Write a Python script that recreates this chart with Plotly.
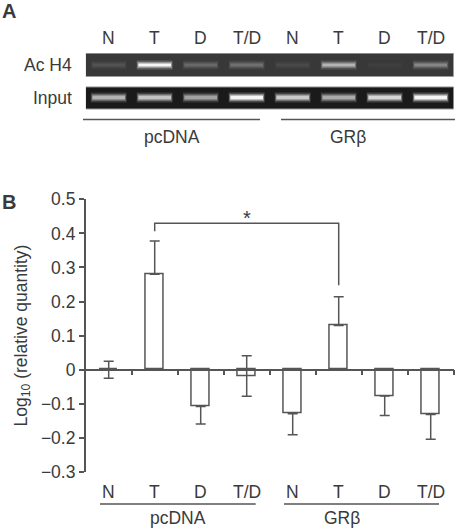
import plotly.graph_objects as go

# ---------------- data ----------------
categories = ["N", "T", "D", "T/D", "N", "T", "D", "T/D"]
groups = ["pcDNA", "GRβ"]
log_values = [0.0, 0.28, -0.108, -0.018, -0.129, 0.130, -0.077, -0.131]
err_up = [0.025, 0.098, 0.0, 0.059, 0.0, 0.084, 0.0, 0.0]
err_down = [0.025, 0.0, 0.051, 0.060, 0.062, 0.0, 0.057, 0.073]
y_tickvals = [0.5, 0.4, 0.3, 0.2, 0.1, 0, -0.1, -0.2, -0.3]
y_ticktext = ["0.5", "0.4", "0.3", "0.2", "0.1", "0", "\u22120.1", "\u22120.2", "\u22120.3"]
gel_rows = ["Ac H4", "Input"]
acH4_intensity = [0.14, 1.0, 0.26, 0.30, 0.09, 0.66, 0.04, 0.42]
input_intensity = [0.70, 0.78, 0.62, 1.0, 0.80, 0.66, 0.86, 1.0]
sig_pair = [1, 5]

# ---------------- layout helpers ----------------
W, H = 456, 528
def py(p):
    return 1 - p / H
def px(p):
    return p / W

X0, X1 = 85.7, 453.7          # plot area left/right in px
YT, YB = 199.3, 472.0          # plot area top/bottom in px
ymin, ymax = -0.3, 0.5
dom_y = [py(YB), py(YT)]
zero_pos = dom_y[0] + (0 - ymin) / (ymax - ymin) * (dom_y[1] - dom_y[0])

TXT = "#3a3a3a"
LN = "#555555"
FONT = "Liberation Sans, Arial, sans-serif"
FS = 17.5

n = len(categories)
xs = list(range(n))

fig = go.Figure()
fig.add_trace(go.Bar(
    x=xs, y=log_values, width=0.385,
    marker=dict(color="white", line=dict(color=LN, width=1.5)),
    error_y=dict(type="data", symmetric=False, array=err_up, arrayminus=err_down,
                 color=LN, thickness=1.5, width=5),
    showlegend=False, hoverinfo="skip",
))

shapes = []
annotations = []

# significance bracket
a, b = sig_pair
shapes.append(dict(type="path", xref="x", yref="y",
                   path=f"M {a},0.406 L {a},0.43 L {b},0.43 L {b},0.248",
                   line=dict(color=LN, width=1.5)))
annotations.append(dict(x=(a + b) / 2, y=0.445, xref="x", yref="y", text="*",
                        showarrow=False, font=dict(size=20, color=TXT, family=FONT),
                        yanchor="middle"))

# y-axis title
annotations.append(dict(x=px(21.5), y=py(336), xref="paper", yref="paper",
                        text="Log<sub>10</sub> (relative quantity)", textangle=-90,
                        showarrow=False, xanchor="center", yanchor="middle",
                        font=dict(size=FS, color=TXT, family=FONT)))

# category labels (panel B)
for i, c in enumerate(categories):
    annotations.append(dict(x=i, y=py(491.7), xref="x", yref="paper", text=c,
                            showarrow=False, font=dict(size=FS, color=TXT, family=FONT),
                            yanchor="middle"))
# group lines and labels (panel B)
for (l, r, cx), g in zip([(100, 255.7, 178), (284, 439, 362)], groups):
    shapes.append(dict(type="line", xref="paper", yref="paper", x0=px(l), x1=px(r),
                       y0=py(504), y1=py(504), line=dict(color=LN, width=1.5)))
    annotations.append(dict(x=px(cx), y=py(518), xref="paper", yref="paper", text=g,
                            showarrow=False, font=dict(size=FS, color=TXT, family=FONT),
                            yanchor="middle"))

# ---------------- panel A: gel ----------------
for i, c in enumerate(categories):
    annotations.append(dict(x=i, y=py(38), xref="x", yref="paper", text=c,
                            showarrow=False, font=dict(size=FS, color=TXT, family=FONT),
                            yanchor="middle"))

strips = [  # (top px, bottom px, band center px, bg level, intensities, core half-height)
    (53.5, 76.5, 65.0, 56, acH4_intensity, 1.5),
    (87, 109, 97.5, 26, input_intensity, 2.0),
]
for (top, bot, cy, bg, inten, ch), name in zip(strips, gel_rows):
    shapes.append(dict(type="rect", xref="x", yref="paper", x0=-0.5, x1=7.5,
                       y0=py(bot), y1=py(top), fillcolor=f"rgb({bg},{bg},{bg})",
                       line=dict(width=0), layer="above"))
    shapes.append(dict(type="line", xref="x", yref="paper", x0=-0.5, x1=7.5,
                       y0=py(top), y1=py(top), line=dict(color="#8a8a8a", width=1),
                       layer="above"))
    shapes.append(dict(type="line", xref="x", yref="paper", x0=-0.5, x1=7.5,
                       y0=py(bot), y1=py(bot), line=dict(color="#9a9a9a", width=1),
                       layer="above"))
    for i, v in enumerate(inten):
        core = int(bg + (245 - bg) * v)
        mid = int(bg + (core - bg) * 0.5)
        glow = int(bg + (core - bg) * 0.22)
        for hw, hh, lv in [(0.39, ch + 3.0, glow), (0.375, ch + 1.4, mid), (0.355, ch, core)]:
            shapes.append(dict(type="rect", xref="x", yref="paper",
                               x0=i - hw, x1=i + hw, y0=py(cy + hh), y1=py(cy - hh),
                               fillcolor=f"rgb({lv},{lv},{lv})", line=dict(width=0),
                               layer="above"))
    annotations.append(dict(x=px(74), y=py((top + bot) / 2 - 0.5), xref="paper", yref="paper",
                            text=name, showarrow=False, xanchor="right", yanchor="middle",
                            font=dict(size=FS, color=TXT, family=FONT)))

for (l, r, cx), g in zip([(83, 260, 172), (281, 455, 368)], groups):
    shapes.append(dict(type="line", xref="paper", yref="paper", x0=px(l), x1=px(r),
                       y0=py(119.5), y1=py(119.5), line=dict(color=LN, width=1.5)))
    annotations.append(dict(x=px(cx), y=py(137), xref="paper", yref="paper", text=g,
                            showarrow=False, font=dict(size=FS, color=TXT, family=FONT),
                            yanchor="middle"))

# panel letters
annotations.append(dict(x=px(0), y=py(11), xref="paper", yref="paper", text="<b>A</b>",
                        showarrow=False, xanchor="left", yanchor="middle",
                        font=dict(size=20, color=TXT, family=FONT)))
annotations.append(dict(x=px(0), y=py(202), xref="paper", yref="paper", text="<b>B</b>",
                        showarrow=False, xanchor="left", yanchor="middle",
                        font=dict(size=20, color=TXT, family=FONT)))

fig.update_layout(
    template="none",
    width=W, height=H, margin=dict(l=0, r=0, t=0, b=0, pad=0, autoexpand=False),
    paper_bgcolor="white", plot_bgcolor="white",
    font=dict(family=FONT, color=TXT, size=FS),
    shapes=shapes, annotations=annotations, bargap=0,
    xaxis=dict(domain=[px(X0), px(X1)], range=[-0.5, n - 0.5], anchor="free",
               position=zero_pos, showline=True, linecolor=LN, linewidth=1.5,
               ticks="outside", ticklen=5, tickwidth=1.5, tickcolor=LN,
               tickvals=[i + 0.5 for i in range(n)], showticklabels=False,
               showgrid=False, zeroline=False, fixedrange=True, automargin=False),
    yaxis=dict(domain=dom_y, range=[ymin, ymax], showline=True, linecolor=LN,
               linewidth=1.5, ticks="outside", ticklen=5, tickwidth=1.5, tickcolor=LN,
               tickvals=y_tickvals, ticktext=y_ticktext, showgrid=False, automargin=False,
               zeroline=False, tickfont=dict(size=FS, color=TXT, family=FONT),
               fixedrange=True),
)

fig.write_html("out.html", config={"displayModeBar": False},
               post_script="document.body.style.margin='0';document.body.style.overflow='hidden';")
